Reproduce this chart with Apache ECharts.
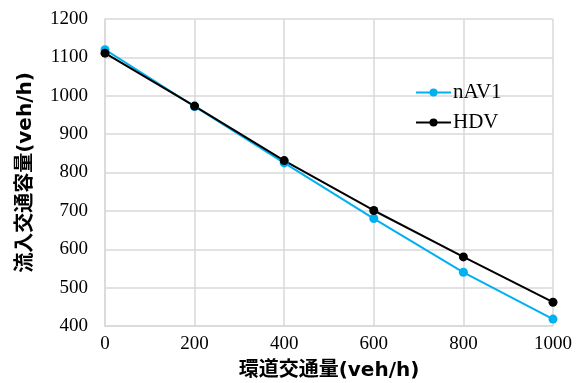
<!DOCTYPE html>
<html>
<head>
<meta charset="utf-8">
<script src="https://cdn.jsdelivr.net/npm/echarts@6/dist/echarts.min.js"></script>
<style>
  html, body { margin: 0; padding: 0; background: #fff; }
  #chart { width: 585px; height: 383px; }
</style>
</head>
<body>
<div id="chart"></div>
<script>
const xValues = [0, 200, 400, 600, 800, 1000];
const nav1 = [1120, 972, 825, 680, 540, 418];
const hdv = [1111, 973, 831, 701, 580, 462];

const serif = "'Liberation Serif', 'Times New Roman', serif";
const titleFont = "'DejaVu Sans', 'Noto Sans CJK JP', sans-serif";

const chart = echarts.init(document.getElementById("chart"));

chart.setOption({
  animation: false,
  grid: { left: 105, right: 32, top: 19, bottom: 57, outerBoundsMode: "none" },
  legend: {
    orient: "vertical",
    left: 410,
    top: 77,
    itemGap: 9,
    itemWidth: 35,
    itemHeight: 10,
    textStyle: { fontFamily: serif, fontSize: 21, color: "#000", padding: [0, 0, 0, -3] },
    data: ["nAV1", "HDV"]
  },
  xAxis: {
    type: "value",
    min: 0,
    max: 1000,
    interval: 200,
    name: "環道交通量(veh/h)",
    nameLocation: "middle",
    nameGap: 35,
    nameTextStyle: { fontFamily: titleFont, fontWeight: "bold", fontSize: 20, color: "#000" },
    axisLine: { lineStyle: { color: "#d9d9d9", width: 1.5 } },
    axisTick: { show: false },
    axisLabel: { fontFamily: serif, fontSize: 19, color: "#000", margin: 9, formatter: v => String(v) },
    splitLine: { lineStyle: { color: "#d9d9d9", width: 1.5 } }
  },
  yAxis: {
    type: "value",
    min: 400,
    max: 1200,
    interval: 100,
    name: "流入交通容量(veh/h)",
    nameLocation: "middle",
    nameGap: 69,
    nameTextStyle: { fontFamily: titleFont, fontWeight: "bold", fontSize: 20, color: "#000" },
    axisLine: { show: true, lineStyle: { color: "#d9d9d9", width: 1.5 } },
    axisTick: { show: false },
    axisLabel: { fontFamily: serif, fontSize: 19, color: "#000", margin: 17, formatter: v => String(v) },
    splitLine: { lineStyle: { color: "#d9d9d9", width: 1.5 } }
  },
  series: [
    {
      name: "nAV1",
      type: "line",
      data: xValues.map((x, i) => [x, nav1[i]]),
      symbol: "circle",
      symbolSize: 9,
      color: "#00b0f0",
      lineStyle: { width: 2 }
    },
    {
      name: "HDV",
      type: "line",
      data: xValues.map((x, i) => [x, hdv[i]]),
      symbol: "circle",
      symbolSize: 9,
      color: "#000",
      lineStyle: { width: 2 }
    }
  ]
});
</script>
</body>
</html>
